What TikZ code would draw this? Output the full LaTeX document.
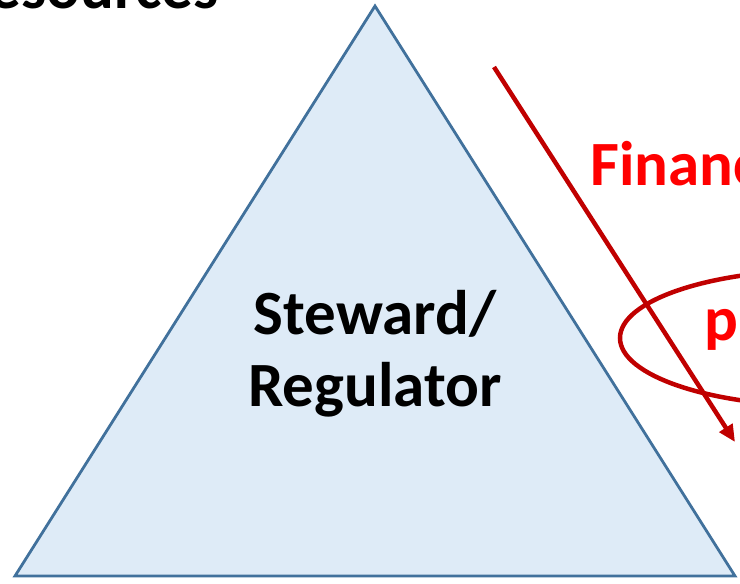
\documentclass[tikz,border=0pt]{standalone}
\usepackage{fontspec}
\setmainfont{Carlito}
\usetikzlibrary{arrows.meta}
\definecolor{tribord}{HTML}{41719C}
\definecolor{trifill}{HTML}{DEEBF7}
\definecolor{darkred}{HTML}{C00000}
\tikzset{
  bigtext/.style={font=\bfseries\fontsize{63}{72}\selectfont, inner sep=0pt, align=center},
  redline/.style={draw=darkred, line width=4.5pt},
}
\begin{document}
\begin{tikzpicture}[x=1pt,y=-1pt]
\useasboundingbox (0,0) rectangle (740,584);
% triangle of the steward role
\coordinate (apex) at (375,6);
\coordinate (bl) at (15,576);
\coordinate (br) at (735,576);
\draw[tribord, fill=trifill, line width=2.8pt, line join=miter] (apex) -- (bl) -- (br) -- cycle;
\node[bigtext] (steward) at (375,354) {Steward/\\Regulator};
% headings running off the edges
\node[bigtext, anchor=base east] (resources) at (219,8) {Resources};
\node[bigtext, anchor=base west, text=red] (financing) at (590,185) {Financing};
% financing flow arrow and the ring around its label
\coordinate (fstart) at (494,67);
\coordinate (fend) at (735,442);
\draw[redline, -{Triangle[length=17pt,width=15pt]}] (fstart) -- (fend);
\draw[redline] (822,338) ellipse [x radius=202, y radius=68];
\node[bigtext, anchor=base west, text=red] (payment) at (704,340) {payment};
\end{tikzpicture}
\end{document}
